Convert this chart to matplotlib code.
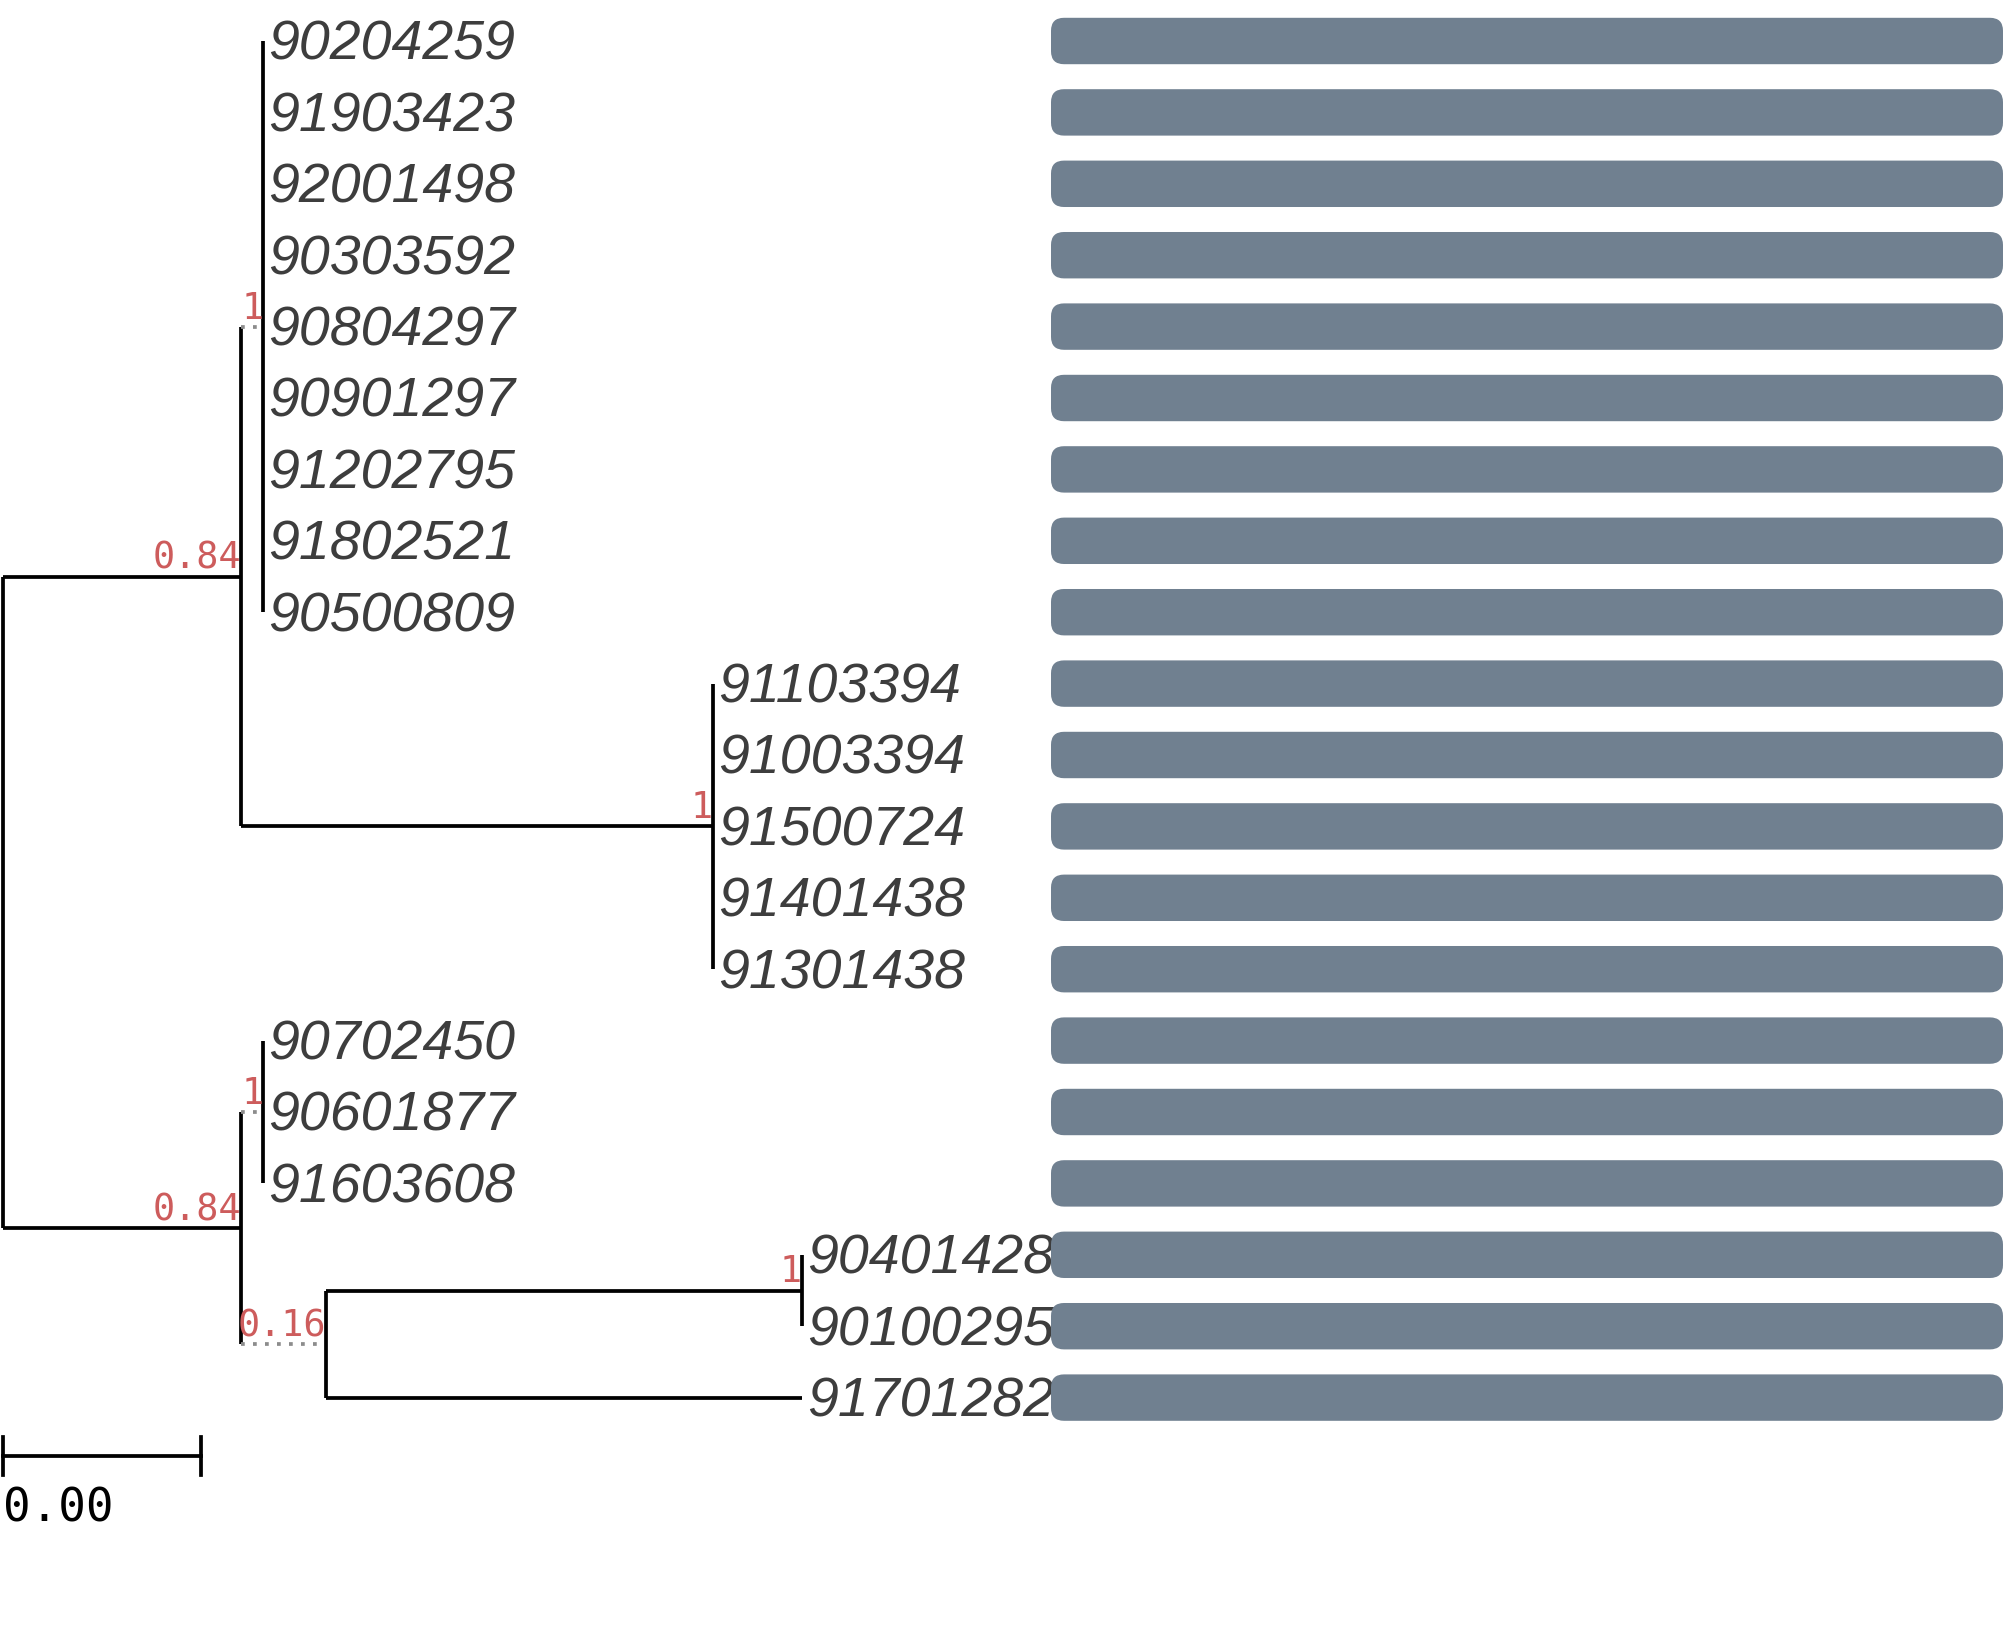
import numpy as np
import matplotlib
matplotlib.use("Agg")
import matplotlib.pyplot as plt
from matplotlib.patches import FancyBboxPatch

# tips from top to bottom
tips = ["90204259", "91903423", "92001498", "90303592", "90804297",
        "90901297", "91202795", "91802521", "90500809", "91103394",
        "91003394", "91500724", "91401438", "91301438", "90702450",
        "90601877", "91603608", "90401428", "90100295", "91701282"]

# edges: parent, child, branch length
edge_parent = ["root", "root", "n1", "n1", "n5", "n5", "n7", "n7"]
edge_child = ["n1", "n5", "n2", "n3", "n6", "n7", "n8", "91701282"]
edge_len = [0.0024, 0.0024, 0.00023, 0.00476, 0.00023, 0.00086, 0.0048, 0.0048]

# clades collapsed onto one node (tip branch length 0)
clade_tips = {
    "n2": tips[0:9],
    "n3": tips[9:14],
    "n6": tips[14:17],
    "n8": tips[17:19],
}

support_node = ["n1", "n2", "n3", "n5", "n6", "n7", "n8"]
support_val = ["0.84", "1", "1", "0.84", "1", "0.16", "1"]

bar_values = [1.0] * len(tips)
scale_width = 0.002

dotted_edges = {("n1", "n2"), ("n5", "n6"), ("n5", "n7")}

# build the tree
children = {}
blen = {}
for p, c, l in zip(edge_parent, edge_child, edge_len):
    children.setdefault(p, []).append(c)
    blen[c] = l
for node, tt in clade_tips.items():
    for t in tt:
        children.setdefault(node, []).append(t)
        blen[t] = 0.0

xpos = {"root": 0.0}
ypos = {}


def set_x(node):
    for c in children.get(node, []):
        xpos[c] = xpos[node] + blen[c]
        set_x(c)


def set_y(node):
    if node in tips:
        ypos[node] = tips.index(node)
        return ypos[node]
    ys = [set_y(c) for c in children[node]]
    ypos[node] = np.mean(ys)
    return ypos[node]


set_x("root")
set_y("root")

W, H = 2007, 1634
fig = plt.figure(figsize=(W / 100, H / 100), dpi=100)

px_per_unit = 99200.0
x0_px = 2.6
row_px = 71.4
y0_px = 41.0
ylim = ((H - y0_px) / row_px, -y0_px / row_px)

ax = fig.add_axes([0, 0, 1, 1])
ax.set_xlim(-x0_px / px_per_unit, (W - x0_px) / px_per_unit)
ax.set_ylim(*ylim)
ax.axis("off")

lw = 2.7
for node, kids in children.items():
    ky = [ypos[c] for c in kids]
    ax.plot([xpos[node], xpos[node]], [min(ky), max(ky)], color="black",
            lw=lw, solid_capstyle="butt", clip_on=False)
    for c in kids:
        if blen[c] == 0:
            continue
        if (node, c) in dotted_edges:
            ax.plot([xpos[node], xpos[c]], [ypos[c], ypos[c]], color="#8c8c8c",
                    lw=lw, linestyle=(0, (1, 2.2)), clip_on=False)
        else:
            ax.plot([xpos[node], xpos[c]], [ypos[c], ypos[c]], color="black",
                    lw=lw, solid_capstyle="butt", clip_on=False)

for t in tips:
    ax.annotate(t, (xpos[t], ypos[t]), xytext=(3.5, -3.5), textcoords="offset points",
                ha="left", va="center", fontsize=40, style="italic", color="#3d3d3d",
                family=["Liberation Sans", "DejaVu Sans"])

mono = ["DejaVu Sans Mono", "Liberation Mono"]
for n, s in zip(support_node, support_val):
    ax.text(xpos[n], ypos[n], s, ha="right", va="bottom", fontsize=26.5,
            color="#cd5c5c", family=mono)

# scale bar
sb_y = len(tips) - 1 + 0.82
ax.plot([0, scale_width], [sb_y, sb_y], color="black", lw=lw, clip_on=False)
for xx in [0, scale_width]:
    ax.plot([xx, xx], [sb_y - 0.27, sb_y + 0.27], color="black", lw=lw, clip_on=False)
ax.text(0, sb_y + 0.42, f"{scale_width:.2f}", ha="left", va="top", fontsize=33,
        color="black", family=mono)

# bar panel
bx0, bx1 = 1051, 2003
axb = fig.add_axes([bx0 / W, 0, (bx1 - bx0) / W, 1])
axb.set_xlim(0, max(bar_values))
axb.set_ylim(*ylim)
axb.axis("off")
bar_h = 0.65
x_px_unit = (bx1 - bx0) / max(bar_values)
aspect = x_px_unit / row_px
for i, v in enumerate(bar_values):
    axb.add_patch(FancyBboxPatch((0, i - bar_h / 2), v, bar_h,
                                 boxstyle=f"round,pad=0,rounding_size={13 / x_px_unit}",
                                 mutation_aspect=aspect, facecolor="#708090",
                                 edgecolor="none", clip_on=False))

fig.savefig("out.png", dpi=100)
